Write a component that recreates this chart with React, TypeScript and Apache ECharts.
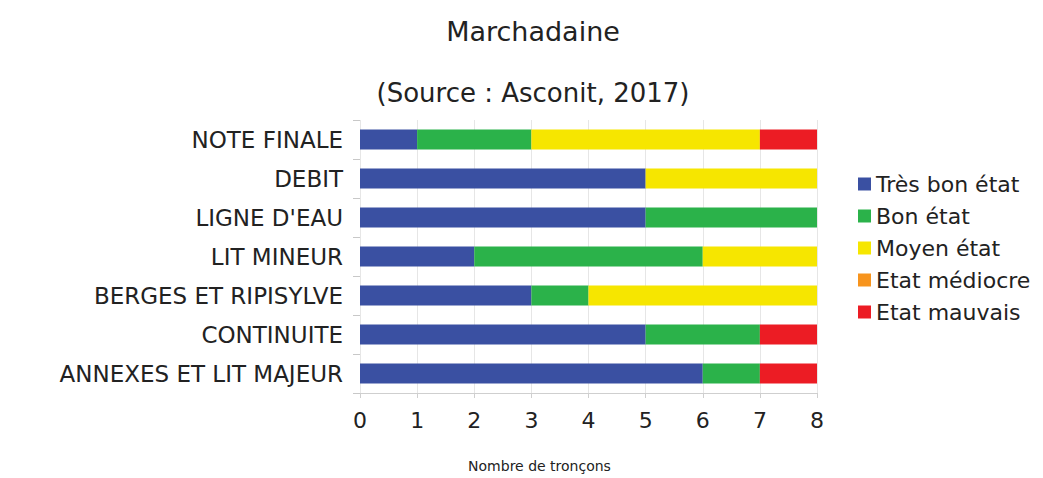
import React, { useEffect, useRef } from "react";
import * as echarts from "echarts";

const categories = [
  "NOTE FINALE",
  "DEBIT",
  "LIGNE D'EAU",
  "LIT MINEUR",
  "BERGES ET RIPISYLVE",
  "CONTINUITE",
  "ANNEXES ET LIT MAJEUR",
];
const seriesNames = ["Très bon état", "Bon état", "Moyen état", "Etat médiocre", "Etat mauvais"];
const tresBon = [1, 5, 5, 2, 3, 5, 6];
const bon = [2, 0, 3, 4, 1, 2, 1];
const moyen = [4, 3, 0, 2, 4, 0, 0];
const mediocre = [0, 0, 0, 0, 0, 0, 0];
const mauvais = [1, 0, 0, 0, 0, 1, 1];
const colors = ["#3a50a2", "#2bb24a", "#f6e600", "#f7941d", "#ec1c24"];

export default function App() {
  const ref = useRef<HTMLDivElement>(null);
  useEffect(() => {
    if (!ref.current) return;
    const chart = echarts.init(ref.current, undefined, { renderer: "svg" });
    const values = [tresBon, bon, moyen, mediocre, mauvais];
    const font = "DejaVu Sans, Verdana, sans-serif";
    chart.setOption({
      animation: false,
      textStyle: { fontFamily: font },
      title: [
        {
          text: "Marchadaine",
          left: 528,
          top: 13,
          textAlign: "center",
          textStyle: { fontSize: 27, fontWeight: "normal", color: "#222", fontFamily: font },
        },
        {
          text: "(Source : Asconit, 2017)",
          left: 528,
          top: 75,
          textAlign: "center",
          textStyle: { fontSize: 26, fontWeight: "normal", color: "#222", fontFamily: font },
        },
      ],
      legend: {
        orient: "vertical",
        left: 853,
        top: 168,
        itemWidth: 13,
        itemHeight: 13,
        itemGap: 10,
        itemTextGap: 8,
        icon: "rect",
        textStyle: { fontSize: 22, color: "#222", fontFamily: font },
        data: seriesNames,
      },
      grid: { left: 360, right: 226, top: 120, bottom: 85, containLabel: false },
      xAxis: {
        type: "value",
        min: 0,
        max: 8,
        interval: 1,
        name: "Nombre de tronçons",
        nameLocation: "middle",
        nameGap: 66,
        nameTextStyle: { fontSize: 14, color: "#222", fontFamily: font, padding: [0, 98, 0, 0] },
        axisLine: { show: true, lineStyle: { color: "#cfcfcf" } },
        axisTick: { show: true, length: 5, lineStyle: { color: "#cfcfcf" } },
        axisLabel: { fontSize: 22, color: "#222", margin: 16, fontFamily: font },
        splitLine: { show: true, lineStyle: { color: "#e6e6e6" } },
      },
      yAxis: {
        type: "category",
        inverse: true,
        data: categories,
        axisLine: { show: false },
        axisTick: { show: true, length: 7, lineStyle: { color: "#c8c8c8" } },
        axisLabel: { fontSize: 23, color: "#222", margin: 17, fontFamily: font },
        splitLine: { show: false },
      },
      series: seriesNames.map((n, i) => ({
        name: n,
        type: "bar",
        stack: "total",
        data: values[i],
        barWidth: 20,
        itemStyle: { color: colors[i] },
      })),
    });
    return () => chart.dispose();
  }, []);
  return <div ref={ref} style={{ width: 1043, height: 478, position: "absolute", left: 0, top: 0, background: "#fff" }} />;
}
